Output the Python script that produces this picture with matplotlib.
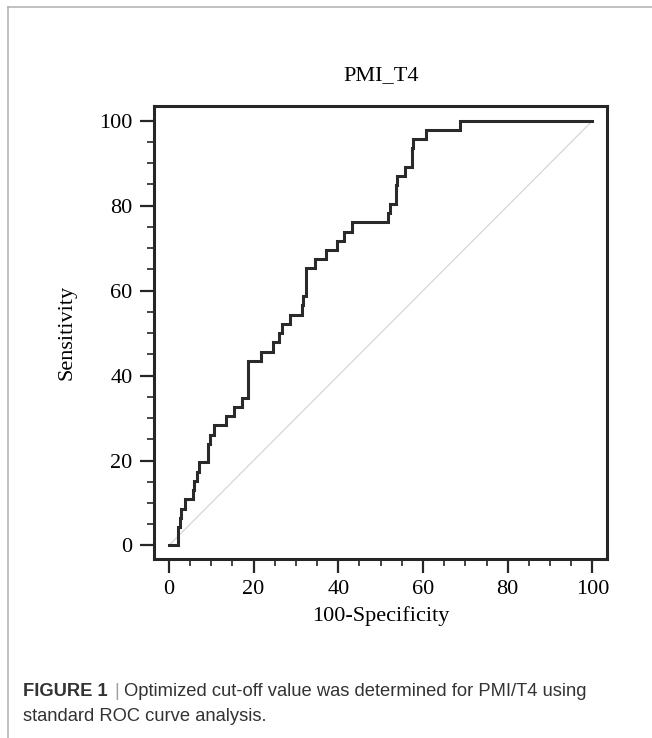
import matplotlib
matplotlib.use("Agg")
import matplotlib.pyplot as plt
from matplotlib.lines import Line2D
from matplotlib.ticker import MultipleLocator

# ROC corner points (100-Specificity, Sensitivity), in %
fpr = [0, 2.20, 2.60, 2.91, 3.93, 5.74, 5.98, 6.69, 7.16, 9.13, 9.68, 10.62,
       13.61, 15.42, 17.31, 18.73, 21.64, 24.63, 25.89, 26.75, 28.56, 31.47,
       31.63, 32.49, 34.62, 37.21, 39.81, 41.31, 43.19, 51.77, 52.24, 53.74,
       53.89, 55.70, 57.51, 57.67, 60.82, 68.69, 100]
sens = [0, 4.35, 6.52, 8.70, 10.87, 13.04, 15.22, 17.39, 19.57, 23.91, 26.09,
        28.26, 30.43, 32.61, 34.78, 43.48, 45.65, 47.83, 50.00, 52.17, 54.35,
        56.52, 58.70, 65.22, 67.39, 69.57, 71.74, 73.91, 76.09, 78.26, 80.43,
        84.78, 86.96, 89.13, 93.48, 95.65, 97.83, 100, 100]
diag = [0, 100]
ticks = [0, 20, 40, 60, 80, 100]

title = "PMI_T4"
xlabel = "100-Specificity"
ylabel = "Sensitivity"
cap_head = "FIGURE 1"
cap_line1 = "Optimized cut-off value was determined for PMI/T4 using"
cap_line2 = "standard ROC curve analysis."

serif = ["Liberation Serif", "DejaVu Serif"]
sans = ["Liberation Sans", "DejaVu Sans"]

fig = plt.figure(figsize=(6.52, 7.38), dpi=100)
W, H = 652, 738
ax = fig.add_axes([154 / W, 1 - 559.3 / H, (607.3 - 154) / W, (559.3 - 105.7) / H])

frame_col = "#262626"
ax.plot(diag, diag, color="#d2d2d2", lw=0.8, zorder=1)
ax.plot(fpr, sens, drawstyle="steps-post", color="#2a2a2a", lw=2.2,
        solid_joinstyle="miter", zorder=2)

ax.set_xlim(-3.5, 103.5)
ax.set_ylim(-3.25, 103.55)
ax.set_xticks(ticks)
ax.set_yticks(ticks)
ax.xaxis.set_minor_locator(MultipleLocator(5))
ax.yaxis.set_minor_locator(MultipleLocator(5))

for s in ax.spines.values():
    s.set_linewidth(2.2)
    s.set_color(frame_col)

ax.tick_params(which="major", direction="out", length=10, width=1.6,
               color=frame_col, labelsize=16)
ax.tick_params(which="minor", direction="out", length=5, width=1.2,
               color=frame_col)
ax.tick_params(axis="x", which="major", pad=5)
ax.tick_params(axis="y", which="major", pad=5.5)
for lab in ax.get_xticklabels() + ax.get_yticklabels():
    lab.set_family(serif)

ax.set_title(title, family=serif, fontsize=16, pad=18.7)
ax.set_xlabel(xlabel, family=serif, fontsize=16, labelpad=5)
ax.set_ylabel(ylabel, family=serif, fontsize=16, labelpad=16)

# page border lines (top and left)
fig.add_artist(Line2D([8.3 / W, 1], [1 - 6.5 / H, 1 - 6.5 / H],
                      color="#b0b0b0", lw=1.1))
fig.add_artist(Line2D([8.3 / W, 8.3 / W], [0, 1 - 6.5 / H],
                      color="#b0b0b0", lw=1.1))

# caption
cap_col = "#333333"
cap_size = 13.2
renderer = fig.canvas.get_renderer()
t0 = fig.text(23 / W, 1 - 696 / H, cap_head, family=sans, fontsize=cap_size,
              weight="bold", color=cap_col, va="baseline")
bb = t0.get_window_extent(renderer)
fig.text((bb.x1 + 7) / W, 1 - 696 / H, "|", family=sans, fontsize=cap_size,
         color="#a0a0a0", va="baseline")
fig.text((bb.x1 + 16) / W, 1 - 696 / H, cap_line1, family=sans,
         fontsize=cap_size, color=cap_col, va="baseline")
fig.text(23 / W, 1 - 721 / H, cap_line2, family=sans, fontsize=cap_size,
         color=cap_col, va="baseline")

fig.savefig("out.png", dpi=100)
